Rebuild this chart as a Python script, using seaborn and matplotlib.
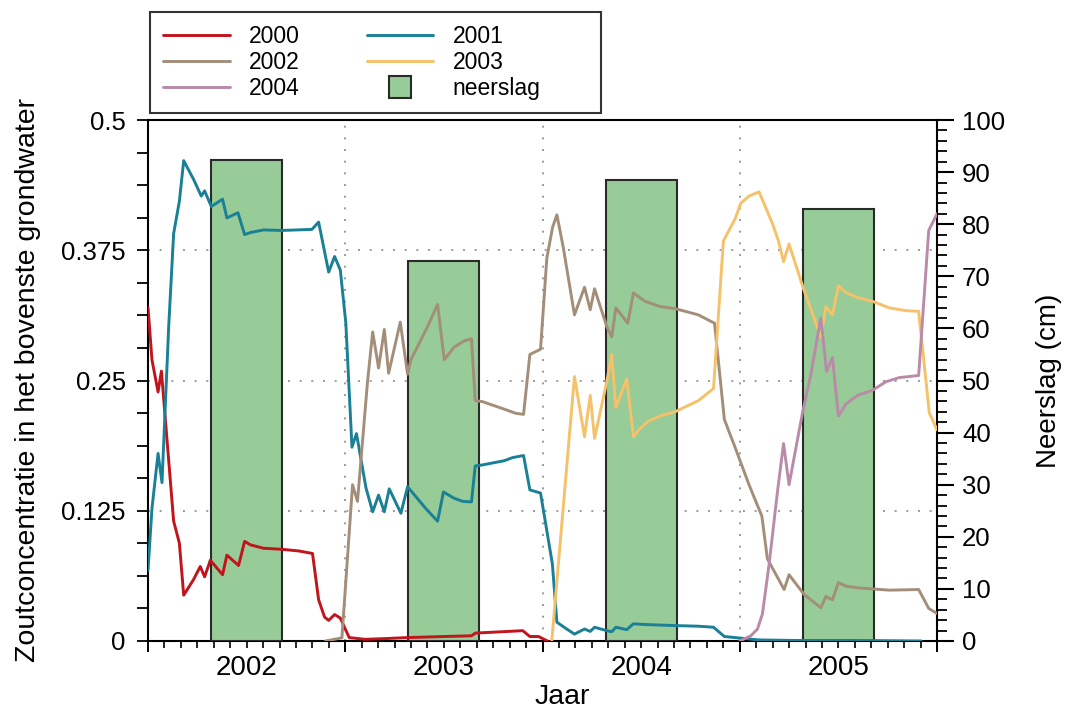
import numpy as np
import pandas as pd
import matplotlib
matplotlib.use("Agg")
import matplotlib.pyplot as plt
from matplotlib.lines import Line2D
from matplotlib.ticker import MultipleLocator
from matplotlib.offsetbox import DrawingArea
import seaborn as sns

# ---------------- data (x in decimal years) ----------------
x2000 = [2002.0, 2002.02, 2002.051, 2002.068, 2002.13, 2002.159, 2002.181, 2002.231, 2002.265,
         2002.287, 2002.316, 2002.378, 2002.400, 2002.459, 2002.490, 2002.519, 2002.586, 2002.679,
         2002.764, 2002.834, 2002.865, 2002.895, 2002.916, 2002.946, 2002.975, 2003.0, 2003.02,
         2003.10, 2003.20, 2003.316, 2003.50, 2003.64, 2003.66, 2003.90, 2003.936, 2003.98, 2004.025]
y2000 = [0.320, 0.270, 0.239, 0.259, 0.115, 0.094, 0.044, 0.059, 0.0715,
         0.0616, 0.0775, 0.0636, 0.0824, 0.0725, 0.0956, 0.0923, 0.089, 0.088,
         0.0864, 0.084, 0.0396, 0.023, 0.0198, 0.0254, 0.022, 0.0115, 0.0033,
         0.0016, 0.0023, 0.0033, 0.0043, 0.005, 0.0076, 0.0099, 0.0043, 0.0043, 0.0]

x2001 = [2002.0, 2002.02, 2002.051, 2002.071, 2002.105, 2002.130, 2002.159, 2002.181, 2002.231,
         2002.270, 2002.287, 2002.321, 2002.378, 2002.400, 2002.456, 2002.490, 2002.519, 2002.586,
         2002.679, 2002.831, 2002.865, 2002.916, 2002.946, 2002.975, 2003.003, 2003.034, 2003.057,
         2003.105, 2003.139, 2003.169, 2003.198, 2003.223, 2003.282, 2003.316, 2003.409, 2003.468,
         2003.498, 2003.552, 2003.595, 2003.640, 2003.659, 2003.696, 2003.806, 2003.848, 2003.904,
         2003.936, 2003.990, 2004.05, 2004.073, 2004.123, 2004.162, 2004.213, 2004.242, 2004.264,
         2004.326, 2004.351, 2004.372, 2004.427, 2004.461, 2004.52, 2004.672, 2004.79, 2004.867,
         2004.922, 2004.976, 2005.027, 2005.10, 2005.30, 2005.60, 2005.92]
y2001 = [0.0676, 0.127, 0.180, 0.152, 0.302, 0.391, 0.422, 0.461, 0.443,
         0.427, 0.432, 0.417, 0.424, 0.406, 0.411, 0.390, 0.392, 0.3945,
         0.394, 0.395, 0.402, 0.354, 0.369, 0.356, 0.305, 0.186, 0.199,
         0.147, 0.124, 0.140, 0.124, 0.146, 0.1226, 0.148, 0.127, 0.115,
         0.143, 0.137, 0.134, 0.1335, 0.168, 0.169, 0.173, 0.176, 0.178,
         0.145, 0.142, 0.074, 0.018, 0.0115, 0.0066, 0.0115, 0.0092, 0.0132,
         0.0099, 0.0089, 0.0132, 0.0109, 0.0165, 0.0158, 0.0148, 0.0142, 0.0132,
         0.0043, 0.0033, 0.0023, 0.001, 0.0005, 0.0005, 0.0]

x2002 = [2002.90, 2002.983, 2003.037, 2003.062, 2003.113, 2003.139, 2003.169, 2003.198, 2003.220,
         2003.279, 2003.316, 2003.333, 2003.417, 2003.468, 2003.502, 2003.552, 2003.603, 2003.640,
         2003.659, 2003.696, 2003.806, 2003.865, 2003.904, 2003.936, 2003.990, 2004.022, 2004.051,
         2004.073, 2004.106, 2004.162, 2004.213, 2004.242, 2004.264, 2004.326, 2004.351, 2004.372,
         2004.432, 2004.461, 2004.52, 2004.596, 2004.672, 2004.79, 2004.841, 2004.872, 2004.922,
         2004.976, 2005.047, 2005.09, 2005.112, 2005.14, 2005.183, 2005.225, 2005.25, 2005.327,
         2005.411, 2005.437, 2005.47, 2005.50, 2005.538, 2005.597, 2005.673, 2005.758, 2005.907,
         2005.958, 2006.0]
y2002 = [0.0, 0.003, 0.150, 0.134, 0.249, 0.2966, 0.262, 0.299, 0.257,
         0.306, 0.256, 0.270, 0.3016, 0.323, 0.270, 0.282, 0.288, 0.290,
         0.2307, 0.2297, 0.2225, 0.2185, 0.2175, 0.275, 0.280, 0.3675, 0.397,
         0.409, 0.377, 0.313, 0.3395, 0.318, 0.338, 0.3016, 0.292, 0.3197,
         0.305, 0.334, 0.326, 0.321, 0.319, 0.313, 0.308, 0.305, 0.2126,
         0.186, 0.150, 0.130, 0.120, 0.079, 0.064, 0.0494, 0.0636, 0.0445,
         0.032, 0.0428, 0.0395, 0.056, 0.0527, 0.051, 0.050, 0.0488, 0.0494,
         0.0313, 0.0264]

x2003 = [2004.047, 2004.162, 2004.213, 2004.242, 2004.264, 2004.326, 2004.351, 2004.372, 2004.427,
         2004.461, 2004.49, 2004.537, 2004.596, 2004.672, 2004.79, 2004.867, 2004.917, 2004.976,
         2005.005, 2005.047, 2005.098, 2005.166, 2005.196, 2005.222, 2005.25, 2005.318, 2005.411,
         2005.437, 2005.47, 2005.50, 2005.538, 2005.597, 2005.673, 2005.758, 2005.843, 2005.907,
         2005.961, 2006.0]
y2003 = [0.0, 0.2538, 0.196, 0.2357, 0.1945, 0.249, 0.275, 0.224, 0.2515,
         0.196, 0.203, 0.211, 0.216, 0.220, 0.2307, 0.2423, 0.384, 0.405,
         0.420, 0.427, 0.431, 0.4005, 0.384, 0.364, 0.381, 0.341, 0.2917,
         0.321, 0.313, 0.341, 0.3345, 0.3296, 0.326, 0.3197, 0.317, 0.3164,
         0.219, 0.2027]

x2004 = [2005.0, 2005.056, 2005.09, 2005.115, 2005.149, 2005.191, 2005.222, 2005.25, 2005.318,
         2005.36, 2005.411, 2005.44, 2005.47, 2005.50, 2005.538, 2005.597, 2005.673, 2005.741,
         2005.809, 2005.907, 2005.958, 2006.0]
y2004 = [0.0, 0.005, 0.0115, 0.026, 0.074, 0.143, 0.1895, 0.150, 0.219,
         0.2555, 0.310, 0.2588, 0.272, 0.216, 0.2274, 0.2357, 0.2406, 0.2488,
         0.2528, 0.2548, 0.394, 0.410]

neerslag_x = [2002.5, 2003.5, 2004.5, 2005.5]
neerslag_cm = [92.4, 73.0, 88.5, 83.0]

year_labels = ["2002", "2003", "2004", "2005"]
year_label_pos = [2002.5, 2003.5, 2004.5, 2005.5]

series = [
    ("2000", x2000, y2000, "#C1141C"),
    ("2001", x2001, y2001, "#1A8096"),
    ("2002", x2002, y2002, "#A38E79"),
    ("2003", x2003, y2003, "#F5C16A"),
    ("2004", x2004, y2004, "#B98BA8"),
]
bar_face = "#97CB97"
bar_edge = "#2A2A2A"

# ---------------- style ----------------
sns.set_theme(style="white")
plt.rcParams["font.family"] = ["Liberation Sans", "DejaVu Sans"]
plt.rcParams["axes.edgecolor"] = "black"
plt.rcParams["xtick.color"] = "black"
plt.rcParams["ytick.color"] = "black"
plt.rcParams["text.color"] = "black"
plt.rcParams["axes.labelcolor"] = "black"

fig = plt.figure(figsize=(10.68, 7.15), dpi=100)
fig.patch.set_facecolor("white")
ax = fig.add_axes([148 / 1068, 1 - 641 / 715, (937 - 148) / 1068, (641 - 120) / 715])
axb = ax.twinx()   # precipitation bars (right axis)
axl = ax.twinx()   # concentration lines (same scale as left axis)
ax.set_zorder(0)
axb.set_zorder(1)
axl.set_zorder(2)

# bars
sns.barplot(x=neerslag_x, y=neerslag_cm, native_scale=True, width=0.36,
            color=bar_face, edgecolor=bar_edge, linewidth=1.5, saturation=1,
            errorbar=None, ax=axb)

# lines
for name, xs, ys, col in series:
    sns.lineplot(x=xs, y=ys, color=col, linewidth=2.1, label=name, sort=False,
                 estimator=None, legend=False, ax=axl)

# ---------------- axes ----------------
ax.set_xlim(2002, 2006)
ax.set_ylim(0, 0.5)
axl.set_ylim(0, 0.5)
axb.set_ylim(0, 100)

ax.set_xticks([2002, 2003, 2004, 2005, 2006])
ax.set_xticklabels([])
ax.xaxis.set_minor_locator(MultipleLocator(1 / 12))
ax.tick_params(axis="x", which="major", direction="out", length=8, width=1.4, bottom=True)
ax.tick_params(axis="x", which="minor", direction="out", length=5, width=1.2, bottom=True)

ax.set_yticks([0, 0.125, 0.25, 0.375, 0.5])
ax.set_yticklabels(["0", "0.125", "0.25", "0.375", "0.5"])
ax.yaxis.set_minor_locator(MultipleLocator(0.03125))
ax.tick_params(axis="y", which="both", direction="out", length=8, width=1.3, left=True,
               labelsize=18.5, pad=8)

axb.set_yticks(np.arange(0, 101, 10))
axb.yaxis.set_minor_locator(MultipleLocator(2))
axb.tick_params(axis="y", which="major", direction="out", length=12, width=1.5, right=True,
                labelsize=18.5, pad=6)
axb.tick_params(axis="y", which="minor", direction="out", length=7, width=1.3, right=True)

axl.yaxis.set_visible(False)
for a in (axb, axl):
    for s in a.spines.values():
        s.set_visible(False)
for s in ax.spines.values():
    s.set_color("black")
    s.set_linewidth(1.5)

ax.grid(True, which="major", axis="both", color="#9a9a9a", linestyle=(0, (1, 5)), linewidth=1.4)

sec = ax.secondary_xaxis("bottom")
sec.set_xticks(year_label_pos)
sec.set_xticklabels(year_labels)
sec.tick_params(axis="x", length=0, pad=10, labelsize=20)
sec.spines["bottom"].set_visible(False)

ax.set_ylabel("Zoutconcentratie in het bovenste grondwater", fontsize=20.5)
ax.yaxis.set_label_coords(-0.135, 0.5)
axb.set_ylabel("Neerslag (cm)", fontsize=20)
axb.yaxis.set_label_coords(1.125, 0.5)
ax.set_xlabel("Jaar", fontsize=20.5)
ax.xaxis.set_label_coords(0.525, -0.083)

# ---------------- legend ----------------
hmap = {h.get_label(): h for h in axl.get_lines()}
bar_proxy = Line2D([], [], marker="s", linestyle="none", markersize=16,
                   markerfacecolor=bar_face, markeredgecolor=bar_edge, markeredgewidth=1.5)
order = ["2000", "2002", "2004", "2001", "2003"]
handles = [hmap[k] for k in order] + [bar_proxy]
labels = order + ["neerslag"]
leg = fig.legend(handles, labels, ncol=2, loc="upper left",
                 bbox_to_anchor=(150 / 1068, 1 - 12 / 715), bbox_transform=fig.transFigure,
                 fontsize=16.5, frameon=True, fancybox=False, shadow=False,
                 handlelength=2.9, handletextpad=0.85, columnspacing=2.9,
                 labelspacing=0.12, borderpad=0.58, borderaxespad=0)
leg.get_frame().set_edgecolor("black")
leg.get_frame().set_linewidth(1.5)
leg.get_frame().set_facecolor("white")
# widen the frame on the right (extra empty space after the last entry, as in the original)
try:
    last_col = leg._legend_handle_box.get_children()[-1]
    last_row = last_col.get_children()[-1]
    last_row.get_children().append(DrawingArea(20, 0))
except Exception:
    pass

fig.savefig("out.png", dpi=100, facecolor="white")
